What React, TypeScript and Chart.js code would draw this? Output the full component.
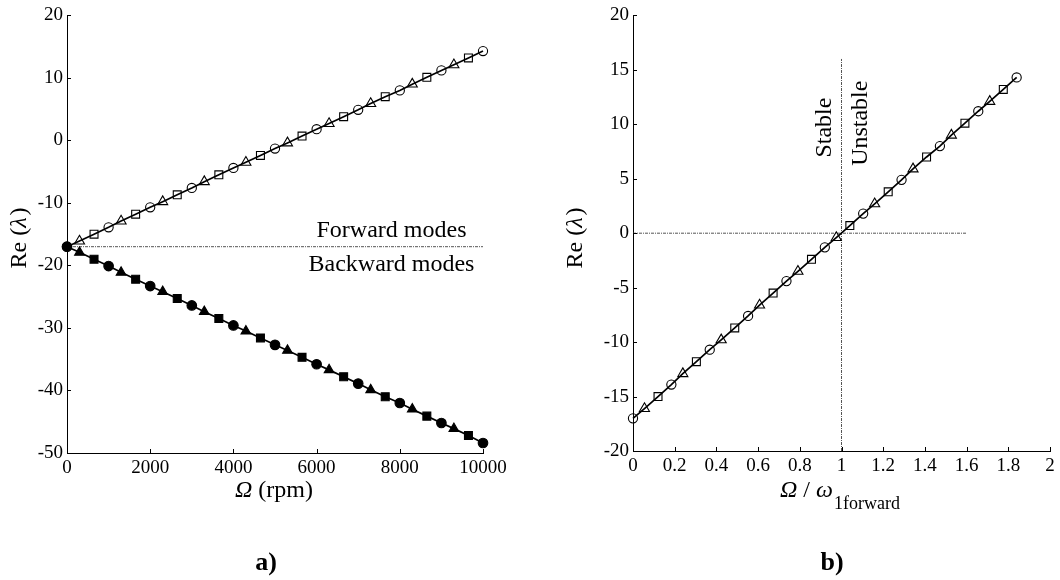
import React, { useEffect, useRef } from "react";
import { Chart, registerables } from "chart.js";
Chart.register(...registerables);

// ---------- data ----------
const rpm = [0, 300, 650, 1000, 1300, 1650, 2000, 2300, 2650, 3000, 3300, 3650, 4000, 4300, 4650, 5000, 5300, 5650, 6000, 6300, 6650, 7000, 7300, 7650, 8000, 8300, 8650, 9000, 9300, 9650, 10000];
const forwardRe = [-17.0, -16.1, -15.0, -13.9, -12.9, -11.8, -10.7, -9.8, -8.7, -7.6, -6.6, -5.5, -4.4, -3.5, -2.4, -1.3, -0.4, 0.7, 1.8, 2.7, 3.8, 4.9, 5.9, 7.0, 8.0, 9.0, 10.1, 11.2, 12.1, 13.2, 14.3];
const backwardRe = [-17.0, -17.9, -19.0, -20.1, -21.1, -22.2, -23.3, -24.2, -25.3, -26.4, -27.4, -28.5, -29.6, -30.5, -31.6, -32.7, -33.6, -34.7, -35.8, -36.7, -37.8, -38.9, -39.9, -41.0, -42.0, -43.0, -44.1, -45.2, -46.1, -47.2, -48.4];
const speedRatio = [0, 0.055, 0.12, 0.184, 0.239, 0.304, 0.368, 0.423, 0.488, 0.552, 0.607, 0.672, 0.736, 0.791, 0.856, 0.92, 0.975, 1.04, 1.104, 1.159, 1.224, 1.288, 1.343, 1.408, 1.472, 1.527, 1.592, 1.656, 1.711, 1.776, 1.84];
const ratioRe = [-17.0, -16.1, -15.0, -13.9, -12.9, -11.8, -10.7, -9.8, -8.7, -7.6, -6.6, -5.5, -4.4, -3.5, -2.4, -1.3, -0.4, 0.7, 1.8, 2.7, 3.8, 4.9, 5.9, 7.0, 8.0, 9.0, 10.1, 11.2, 12.1, 13.2, 14.3];

const separatorX = [0, 10000];
const separatorY = [-17, -17];
const zeroLineX = [0, 1.6];
const zeroLineY = [0, 0];
const limitLineX = [1, 1];
const limitLineY = [-20, 16];

const leftXTicks = [0, 2000, 4000, 6000, 8000, 10000];
const leftYTicks = [20, 10, 0, -10, -20, -30, -40, -50];
const rightXTicks = [0, 0.2, 0.4, 0.6, 0.8, 1, 1.2, 1.4, 1.6, 1.8, 2];
const rightYTicks = [20, 15, 10, 5, 0, -5, -10, -15, -20];

const FONT = '"Liberation Serif", "Times New Roman", serif';
const SHAPES = ["circle", "triangle", "rect"];

function pts(xs: number[], ys: number[]) {
  return xs.map((x, i) => ({ x, y: ys[i] }));
}
function styles(n: number) {
  return Array.from({ length: n }, (_, i) => SHAPES[i % 3]);
}
function radii(n: number, filled: boolean) {
  return Array.from({ length: n }, (_, i) => {
    const s = SHAPES[i % 3];
    if (s === "circle") return filled ? 4.8 : 4.6;
    if (s === "triangle") return filled ? 5.6 : 5.8;
    return filled ? 5.6 : 5.6;
  });
}

function markerSeries(xs: number[], ys: number[], filled: boolean) {
  return {
    data: pts(xs, ys),
    borderColor: "#000",
    borderWidth: 1.7,
    pointStyle: styles(xs.length),
    pointRadius: radii(xs.length, filled),
    pointBorderColor: "#000",
    pointBorderWidth: 1.1,
    pointBackgroundColor: filled ? "#000" : "rgba(0,0,0,0)",
    tension: 0,
    clip: false,
  };
}
function dottedSeries(xs: number[], ys: number[]) {
  return {
    data: pts(xs, ys),
    borderColor: "#555",
    borderWidth: 1,
    borderDash: [3, 1, 1, 1],
    pointRadius: 0,
    tension: 0,
    clip: false,
  };
}

function fitTicks(values: number[]) {
  return (scale: any) => {
    scale.ticks = values.map((v) => ({ value: v }));
  };
}

function axisPlugin(drawExtra: (chart: any) => void) {
  return {
    id: "extras",
    afterDraw(chart: any) {
      const ctx = chart.ctx;
      const { left, bottom } = chart.chartArea;
      const xs = chart.scales.x;
      const ys = chart.scales.y;
      ctx.save();
      ctx.strokeStyle = "#000";
      ctx.lineWidth = 1;
      ctx.beginPath();
      xs.ticks.forEach((t: any) => {
        const px = Math.round(xs.getPixelForValue(t.value)) + 0.5;
        ctx.moveTo(px, bottom);
        ctx.lineTo(px, bottom - 4);
      });
      ys.ticks.forEach((t: any) => {
        const py = Math.round(ys.getPixelForValue(t.value)) + 0.5;
        ctx.moveTo(left, py);
        ctx.lineTo(left + 4, py);
      });
      ctx.stroke();
      ctx.restore();
      ctx.save();
      ctx.fillStyle = "#000";
      drawExtra(chart);
      ctx.restore();
    },
  };
}

function makeConfig(opts: any) {
  return {
    type: "line",
    data: { datasets: opts.datasets },
    options: {
      animation: false,
      responsive: false,
      maintainAspectRatio: false,
      layout: { padding: opts.padding },
      plugins: { legend: { display: false }, tooltip: { enabled: false } },
      scales: {
        x: {
          type: "linear",
          min: opts.xMin,
          max: opts.xMax,
          afterBuildTicks: fitTicks(opts.xTicks),
          afterFit: (s: any) => {
            s.height = 40;
          },
          grid: { display: false, drawTicks: false },
          border: { display: true, color: "#000", width: 1 },
          ticks: {
            color: "#000",
            font: { family: FONT, size: 19 },
            padding: 4,
            maxRotation: 0,
            autoSkip: false,
            callback: (v: any) => String(Math.round(v * 10) / 10),
          },
        },
        y: {
          type: "linear",
          min: opts.yMin,
          max: opts.yMax,
          afterBuildTicks: fitTicks(opts.yTicks),
          afterFit: (s: any) => {
            s.width = opts.yWidth;
          },
          grid: { display: false, drawTicks: false },
          border: { display: true, color: "#000", width: 1 },
          ticks: {
            color: "#000",
            font: { family: FONT, size: 19 },
            padding: 4,
            autoSkip: false,
            callback: (v: any) => String(v),
          },
        },
      },
    },
    plugins: [axisPlugin(opts.extra)],
  };
}

function drawLeftExtras(chart: any) {
  const ctx = chart.ctx;
  const xs = chart.scales.x;
  const ys = chart.scales.y;
  ctx.font = `24px ${FONT}`;
  ctx.textAlign = "center";
  ctx.textBaseline = "middle";
  ctx.fillText("Forward modes", xs.getPixelForValue(7800), ys.getPixelForValue(-14.4));
  ctx.fillText("Backward modes", xs.getPixelForValue(7800), ys.getPixelForValue(-19.8));

  // x title: Ω (rpm)
  ctx.textAlign = "left";
  ctx.textBaseline = "alphabetic";
  ctx.font = `italic 24px ${FONT}`;
  const w1 = ctx.measureText("Ω").width;
  ctx.font = `24px ${FONT}`;
  const w2 = ctx.measureText(" (rpm)").width;
  const startX = 274 - (w1 + w2) / 2;
  ctx.font = `italic 24px ${FONT}`;
  ctx.fillText("Ω", startX, 497);
  ctx.font = `24px ${FONT}`;
  ctx.fillText(" (rpm)", startX + w1, 497);

  // y title
  drawReLambda(ctx, 20, 238);

  ctx.font = `bold 26px ${FONT}`;
  ctx.textAlign = "center";
  ctx.textBaseline = "middle";
  ctx.fillText("a)", 266, 563);
}

function drawReLambda(ctx: any, cx: number, cy: number) {
  ctx.save();
  ctx.translate(cx, cy);
  ctx.rotate(-Math.PI / 2);
  ctx.textBaseline = "middle";
  ctx.textAlign = "left";
  ctx.font = `24px ${FONT}`;
  const a = "Re (";
  const wa = ctx.measureText(a).width;
  ctx.font = `italic 24px ${FONT}`;
  const wl = ctx.measureText("λ").width;
  ctx.font = `24px ${FONT}`;
  const wc = ctx.measureText(")").width;
  const total = wa + wl + 2 + wc;
  let x = -total / 2;
  ctx.fillText(a, x, 0);
  x += wa;
  ctx.font = `italic 24px ${FONT}`;
  ctx.fillText("λ", x, 0);
  x += wl + 2;
  ctx.font = `24px ${FONT}`;
  ctx.fillText(")", x, 0);
  ctx.restore();
}

function drawRightExtras(chart: any) {
  const ctx = chart.ctx;
  const xs = chart.scales.x;
  const ys = chart.scales.y;
  ctx.font = `24px ${FONT}`;
  ctx.textAlign = "center";
  ctx.textBaseline = "middle";
  const rot = (t: string, x: number, y: number) => {
    ctx.save();
    ctx.translate(x, y);
    ctx.rotate(-Math.PI / 2);
    ctx.fillText(t, 0, 0);
    ctx.restore();
  };
  rot("Stable", xs.getPixelForValue(0.92), ys.getPixelForValue(9.7));
  rot("Unstable", xs.getPixelForValue(1.093), ys.getPixelForValue(10.1));

  // x title: Ω / ω_1forward
  ctx.textAlign = "left";
  ctx.textBaseline = "alphabetic";
  let x = 250;
  const base = 497;
  ctx.font = `italic 24px ${FONT}`;
  ctx.fillText("Ω", x, base);
  x += ctx.measureText("Ω").width;
  ctx.font = `24px ${FONT}`;
  ctx.fillText(" / ", x, base);
  x += ctx.measureText(" / ").width;
  ctx.font = `italic 24px ${FONT}`;
  ctx.fillText("ω", x, base);
  x += ctx.measureText("ω").width + 1;
  ctx.font = `18px ${FONT}`;
  ctx.fillText("1forward", x, base + 12);

  drawReLambda(ctx, 46, 238);

  ctx.font = `bold 26px ${FONT}`;
  ctx.textAlign = "center";
  ctx.textBaseline = "middle";
  ctx.fillText("b)", 302, 563);
}

function ChartCanvas({ config, left }: { config: any; left: number }) {
  const ref = useRef<HTMLCanvasElement | null>(null);
  useEffect(() => {
    if (!ref.current) return;
    const chart = new Chart(ref.current, config);
    return () => chart.destroy();
  }, [config]);
  return (
    <canvas
      ref={ref}
      width={530}
      height={580}
      style={{ position: "absolute", left, top: 0, width: 530, height: 580, display: "block" }}
    />
  );
}

const leftConfig = makeConfig({
  datasets: [
    markerSeries(rpm, backwardRe, true),
    markerSeries(rpm, forwardRe, false),
    dottedSeries(separatorX, separatorY),
  ],
  padding: { left: 0, top: 15, right: 47, bottom: 87 },
  xMin: 0,
  xMax: 10000,
  yMin: -50,
  yMax: 20,
  xTicks: leftXTicks,
  yTicks: leftYTicks,
  yWidth: 67,
  extra: drawLeftExtras,
});

const rightConfig = makeConfig({
  datasets: [
    markerSeries(speedRatio, ratioRe, false),
    dottedSeries(zeroLineX, zeroLineY),
    dottedSeries(limitLineX, limitLineY),
  ],
  padding: { left: 0, top: 15, right: 10, bottom: 89 },
  xMin: 0,
  xMax: 2,
  yMin: -20,
  yMax: 20,
  xTicks: rightXTicks,
  yTicks: rightYTicks,
  yWidth: 103,
  extra: drawRightExtras,
});

export default function App() {
  return (
    <div style={{ position: "absolute", left: 0, top: 0, width: 1060, height: 580, background: "#fff" }}>
      <ChartCanvas config={leftConfig} left={0} />
      <ChartCanvas config={rightConfig} left={530} />
    </div>
  );
}
